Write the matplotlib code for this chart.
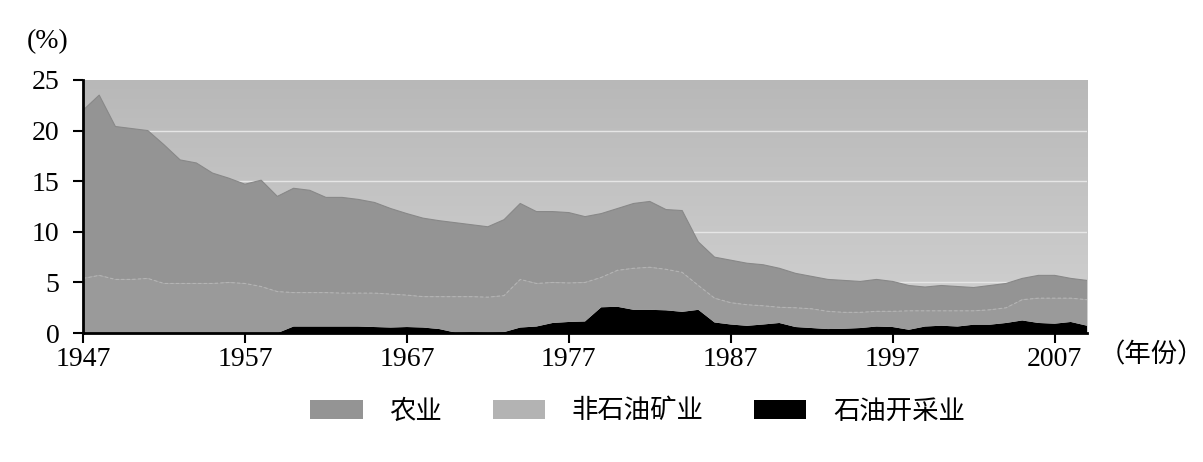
import matplotlib
matplotlib.use("Agg")
import matplotlib.pyplot as plt
import numpy as np

plt.rcParams['font.family'] = ['Liberation Serif', 'Noto Sans CJK SC', 'DejaVu Sans']

years = list(range(1947, 2010))

# 农业
agri = [16.6, 17.8, 15.1, 14.9, 14.6, 13.7, 12.2, 11.9, 10.9, 10.3,
        9.8, 10.5, 9.4, 10.3, 10.1, 9.4, 9.45, 9.25, 8.95, 8.45,
        8.05, 7.75, 7.5, 7.3, 7.1, 6.95, 7.5, 7.5, 7.1, 7.0,
        6.95, 6.5, 6.3, 6.1, 6.4, 6.5, 5.9, 6.1, 4.3, 4.05,
        4.2, 4.1, 4.05, 3.85, 3.4, 3.2, 3.15, 3.15, 3.05, 3.15,
        2.95, 2.5, 2.35, 2.5, 2.4, 2.3, 2.4, 2.4, 2.1, 2.25,
        2.25, 1.95, 1.9]

# 非石油矿业
nonoil = [5.4, 5.7, 5.3, 5.3, 5.4, 4.9, 4.9, 4.9, 4.9, 5.0,
          4.9, 4.6, 4.1, 3.35, 3.35, 3.35, 3.3, 3.3, 3.35, 3.3,
          3.15, 3.05, 3.2, 3.55, 3.5, 3.5, 3.6, 4.75, 4.25, 4.0,
          3.85, 3.85, 2.95, 3.6, 4.1, 4.2, 4.05, 3.9, 2.4, 2.4,
          2.15, 2.08, 1.85, 1.55, 1.9, 1.9, 1.75, 1.62, 1.55, 1.5,
          1.55, 1.87, 1.55, 1.47, 1.55, 1.37, 1.47, 1.5, 2.05, 2.45,
          2.52, 2.35, 2.57]

# 石油开采业
oil = [0, 0, 0, 0, 0, 0, 0, 0, 0, 0,
       0, 0, 0, 0.65, 0.65, 0.65, 0.65, 0.65, 0.6, 0.55,
       0.6, 0.55, 0.4, 0.05, 0.1, 0.05, 0.1, 0.55, 0.65, 1.0,
       1.1, 1.15, 2.55, 2.6, 2.3, 2.3, 2.25, 2.1, 2.3, 1.05,
       0.85, 0.72, 0.85, 1.0, 0.6, 0.5, 0.4, 0.43, 0.5, 0.65,
       0.6, 0.33, 0.65, 0.73, 0.65, 0.83, 0.83, 1.0, 1.25, 1.0,
       0.93, 1.1, 0.73]

labels = ['农业', '非石油矿业', '石油开采业']
xticks = [1947, 1957, 1967, 1977, 1987, 1997, 2007]
yticks = [0, 5, 10, 15, 20, 25]

fig = plt.figure(figsize=(12.03, 4.62), dpi=100)
ax = fig.add_axes([0.069, 0.279, 0.8346, 0.548])

# background gradient (darker at top)
grad = np.linspace(0, 1, 256).reshape(-1, 1)
ax.imshow(grad, extent=[years[0], years[-1], 0, 25], aspect='auto',
          cmap=matplotlib.colors.LinearSegmentedColormap.from_list(
              'bg', ['#b8b8b8', '#d2d2d2']),
          origin='upper', zorder=0)

for v in yticks[1:-1]:
    ax.axhline(v, color='#e6e6e6', lw=1.0, zorder=1)

polys = ax.stackplot(years, oil, nonoil, agri,
                     colors=['#000000', '#9a9a9a', '#949494'],
                     zorder=2, lw=0)

# faint boundaries between the grey layers
mid = np.array(oil) + np.array(nonoil)
top = mid + np.array(agri)
ax.plot(years, mid, color='#b4b4b4', lw=0.8, ls=(0, (3, 2)), zorder=3)
ax.plot(years, top, color='#888888', lw=0.8, zorder=3)

ax.set_xlim(years[0], years[-1])
ax.set_ylim(0, 25)
ax.set_xticks(xticks)
ax.set_yticks(yticks)

for s in ['top', 'right']:
    ax.spines[s].set_visible(False)
for s in ['left', 'bottom']:
    ax.spines[s].set_linewidth(2)
    ax.spines[s].set_zorder(5)

ax.tick_params(axis='both', labelsize=20, width=1.5, length=7, direction='out')
ax.tick_params(axis='y', pad=10)
ax.tick_params(axis='x', pad=3)

ax.text(1.012, -0.085, '（年份）', transform=ax.transAxes, fontsize=19,
        ha='left', va='center')
fig.text(0.022, 0.91, '(%)', fontsize=20, ha='left', va='center')

handles = [polys[2], polys[1], polys[0]]
leg = fig.legend(handles, labels, loc='center', bbox_to_anchor=(0.53, 0.11),
                 ncol=3, frameon=False, fontsize=19,
                 handlelength=2.0, handleheight=0.75,
                 handletextpad=1.0, columnspacing=1.9)
# legend patch for 非石油矿业 is lighter
leg.legend_handles[1].set_facecolor('#b3b3b3')

fig.savefig('out.png', dpi=100)
